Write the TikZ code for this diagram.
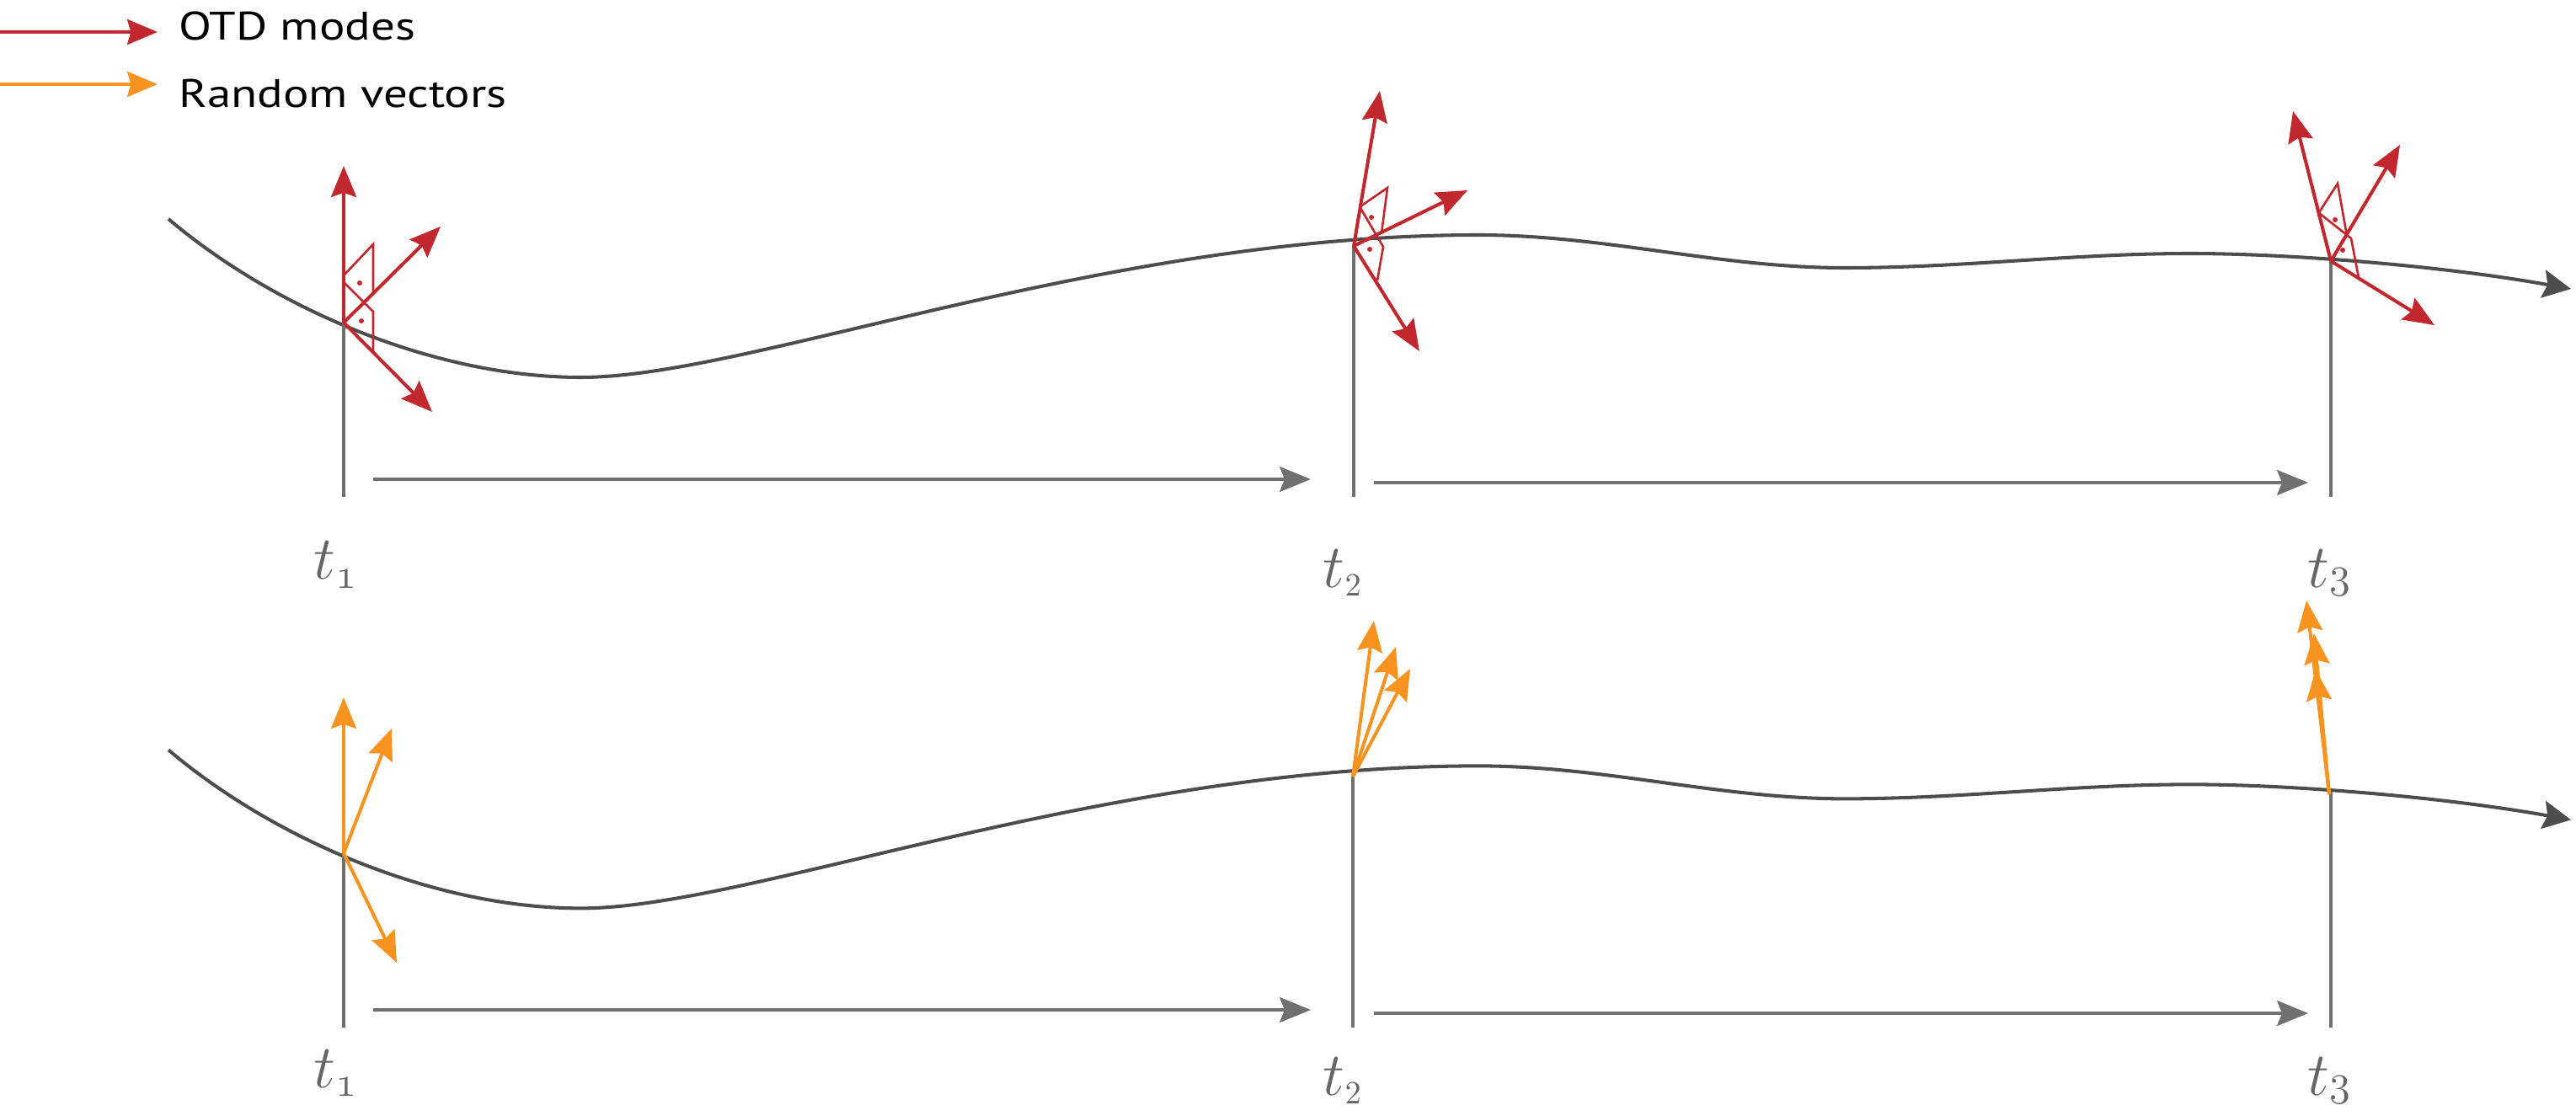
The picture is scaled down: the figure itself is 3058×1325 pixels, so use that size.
\documentclass[tikz,border=0pt]{standalone}
\usepackage{fontspec}
\usepackage{graphicx}
\newfontfamily\legendfont{PT Sans}
\usetikzlibrary{arrows.meta}
\definecolor{otdred}{HTML}{C1272D}
\definecolor{rndorange}{HTML}{F7931E}
\definecolor{curvegray}{HTML}{4D4D4D}
\definecolor{axisgray}{HTML}{707070}
\definecolor{labelgray}{HTML}{666666}
\tikzset{
  bigtip/.tip={Stealth[length=10.5pt,width=8.5pt,inset=1.5pt]},
  legtip/.tip={Stealth[length=10.2pt,width=8.5pt,inset=1.2pt]},
  otdvec/.style={draw=otdred,line width=1.15pt,-bigtip},
  rndvec/.style={draw=rndorange,line width=1.15pt,-bigtip},
  legarrow/.style={line width=1.15pt,-legtip},
  marker/.style={draw=otdred,line width=0.75pt,line join=miter},
  markdot/.style={fill=otdred,draw=none},
  traj/.style={draw=curvegray,line width=1.15pt,-{Stealth[length=9.5pt,width=9.5pt,inset=1.5pt]}},
  timeline/.style={draw=axisgray,line width=1.1pt},
  timearrow/.style={draw=axisgray,line width=1.1pt,-{Stealth[length=10.5pt,width=8.5pt,inset=1.7pt]}},
  tlabel/.style={anchor=base west,inner sep=0pt,text=labelgray,font=\fontsize{21}{25}\selectfont},
  legendtext/.style={anchor=base west,inner sep=0pt,font=\legendfont\fontsize{16.2}{20}\selectfont}
}
\newcommand{\trajpath}{(200,260) .. controls (320,362) and (510,448) .. (690,448)
  .. controls (890,448) and (1305,279) .. (1755,279)
  .. controls (1905,279) and (2040,318) .. (2190,318)
  .. controls (2330,318) and (2460,301) .. (2600,301)
  .. controls (2720,301) and (2902,316) .. (3052,343)}
\begin{document}
\begin{tikzpicture}[x=0.01cm,y=-0.01cm]
\useasboundingbox (0,0) rectangle (3058,1325);

% legend
\coordinate (lr0) at (0,38); \coordinate (lr1) at (187,38);
\coordinate (lo0) at (0,100); \coordinate (lo1) at (187,100);
\draw[legarrow,draw=otdred] (lr0) -- (lr1);
\draw[legarrow,draw=rndorange] (lo0) -- (lo1);
\node[legendtext] (legotd) at (212,48) {\scalebox{1}[0.83]{OTD modes}};
\node[legendtext] (legrnd) at (212,128) {\scalebox{1}[0.83]{Random vectors}};

% ================= top panel =================
\draw[traj] \trajpath;

\coordinate (A1) at (408,383);
\coordinate (A2) at (1607,292);
\coordinate (A3) at (2767,310);
\coordinate (A1b) at (408,590);
\coordinate (A2b) at (1607,590);
\coordinate (A3b) at (2767,590);
\draw[timeline] (A1) -- (A1b);
\draw[timeline] (A2) -- (A2b);
\draw[timeline] (A3) -- (A3b);

\coordinate (h1s) at (443,569); \coordinate (h1e) at (1556,569);
\coordinate (h2s) at (1631,573); \coordinate (h2e) at (2740,573);
\draw[timearrow] (h1s) -- (h1e);
\draw[timearrow] (h2s) -- (h2e);

\node[tlabel] (ta1) at (372,688) {$t_{\mathnormal{1}}$};
\node[tlabel] (ta2) at (1570,697) {$t_{\scriptscriptstyle 2}$};
\node[tlabel] (ta3) at (2739,697) {$t_3$};

% OTD modes at t1
\coordinate (r1a) at (408,197); \coordinate (r1b) at (523,269); \coordinate (r1c) at (513,489);
\draw[marker] (408,327) -- (443,290) -- (443,348);
\draw[marker] (408,335) -- (443,370) -- (443,418);
\fill[markdot] (427,336) circle[radius=0.85pt];
\fill[markdot] (429,381) circle[radius=0.85pt];
\draw[otdvec] (A1) -- (r1a);
\draw[otdvec] (A1) -- (r1b);
\draw[otdvec] (A1) -- (r1c);

% OTD modes at t2
\coordinate (r2a) at (1638,108); \coordinate (r2b) at (1742,226); \coordinate (r2c) at (1685,417);
\draw[marker] (1615,245) -- (1647,223) -- (1640,277);
\draw[marker] (1615,247) -- (1642,293) -- (1635,333);
\fill[markdot] (1628,258) circle[radius=0.85pt];
\fill[markdot] (1626,296) circle[radius=0.85pt];
\draw[otdvec] (A2) -- (r2a);
\draw[otdvec] (A2) -- (r2b);
\draw[otdvec] (A2) -- (r2c);

% OTD modes at t3
\coordinate (r3a) at (2722,132); \coordinate (r3b) at (2849,172); \coordinate (r3c) at (2890,386);
\draw[marker] (2753,252) -- (2775,218) -- (2786,280);
\draw[marker] (2753,253) -- (2791,283) -- (2800,330);
\fill[markdot] (2772,261) circle[radius=0.85pt];
\fill[markdot] (2781,297) circle[radius=0.85pt];
\draw[otdvec] (A3) -- (r3a);
\draw[otdvec] (A3) -- (r3b);
\draw[otdvec] (A3) -- (r3c);

% ================= bottom panel =================
\begin{scope}[yshift=-6.3cm]
\draw[traj] \trajpath;
\end{scope}

\coordinate (B1) at (408,1013);
\coordinate (B2) at (1606,922);
\coordinate (B3) at (2767,940);
\coordinate (B1b) at (408,1220);
\coordinate (B2b) at (1606,1220);
\coordinate (B3b) at (2767,1220);
\draw[timeline] (B1) -- (B1b);
\draw[timeline] (B2) -- (B2b);
\draw[timeline] (B3) -- (B3b);

\coordinate (k1s) at (443,1199); \coordinate (k1e) at (1556,1199);
\coordinate (k2s) at (1631,1203); \coordinate (k2e) at (2740,1203);
\draw[timearrow] (k1s) -- (k1e);
\draw[timearrow] (k2s) -- (k2e);

\node[tlabel] (tb1) at (372,1291) {$t_{\mathnormal{1}}$};
\node[tlabel] (tb2) at (1570,1300) {$t_{\scriptscriptstyle 2}$};
\node[tlabel] (tb3) at (2739,1300) {$t_3$};

% random vectors at t1
\coordinate (o1a) at (408,828); \coordinate (o1b) at (465,865); \coordinate (o1c) at (471,1143);
\draw[rndvec] (B1) -- (o1a);
\draw[rndvec] (B1) -- (o1b);
\draw[rndvec] (B1) -- (o1c);

% random vectors at t2
\coordinate (o2a) at (1631,737); \coordinate (o2b) at (1657,768); \coordinate (o2c) at (1674,794);
\draw[rndvec] (B2) -- (o2a);
\draw[rndvec] (B2) -- (o2b);
\draw[rndvec] (B2) -- (o2c);

% random vectors at t3
\coordinate (B3o) at (2765,943);
\coordinate (o3a) at (2738,713); \coordinate (o3b) at (2747,752); \coordinate (o3c) at (2749,795);
\draw[rndvec] (B3o) -- (o3a);
\draw[rndvec] (B3o) -- (o3b);
\draw[rndvec] (B3o) -- (o3c);
\end{tikzpicture}
\end{document}
